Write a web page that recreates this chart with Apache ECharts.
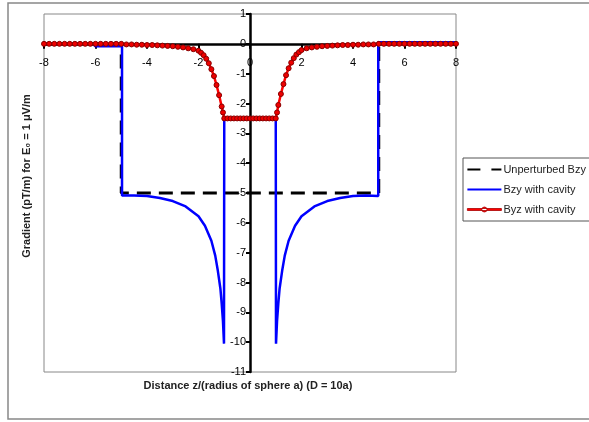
<!DOCTYPE html>
<html>
<head>
<meta charset="utf-8">
<script src="https://cdn.jsdelivr.net/npm/echarts@6/dist/echarts.min.js"></script>
<style>
  html, body { margin: 0; padding: 0; background: #fff; }
  #main { width: 589px; height: 422px; }
</style>
</head>
<body>
<div id="main"></div>
<script>
// values
var xTicks = [-8, -6, -4, -2, 0, 2, 4, 6, 8];
var yTicks = [1, 0, -1, -2, -3, -4, -5, -6, -7, -8, -9, -10, -11];

// unperturbed gradient (step at the sphere D = 10a)
var baseZ = [-8, -5, -5, 5, 5, 8];
var baseV = [0, 0, -5, -5, 0, 0];

// Bzy with cavity
var blueZ = [-8, -6.1, -6.0, -4.97, -4.97, -4.5, -4, -3.5, -3, -2.5, -2, -1.75, -1.5, -1.35, -1.25, -1.15, -1.1, -1.05, -1.01, -1.0,
             1.0, 1.01, 1.05, 1.1, 1.15, 1.25, 1.35, 1.5, 1.75, 2, 2.5, 3, 3.5, 4, 4.5, 4.98, 4.98, 6, 8];
var blueV = [0, 0, -0.08, -0.08, -5.08, -5.08, -5.1, -5.17, -5.27, -5.45, -5.78, -6.1, -6.6, -7.1, -7.6, -8.2, -8.7, -9.3, -10.05, -2.5,
             -2.5, -10.05, -9.3, -8.7, -8.2, -7.6, -7.1, -6.6, -6.1, -5.78, -5.45, -5.27, -5.17, -5.1, -5.08, -5.1, 0.05, 0.05, 0.05];

// Byz with cavity (marked points)
var redZ = [-8, -7.8, -7.6, -7.4, -7.2, -7, -6.8, -6.6, -6.4, -6.2, -6, -5.8, -5.6, -5.4, -5.2, -5,
            -4.8, -4.6, -4.4, -4.2, -4, -3.8, -3.6, -3.4, -3.2, -3, -2.8, -2.6, -2.4, -2.2,
            -2, -1.9, -1.8, -1.7, -1.6, -1.5, -1.4, -1.3, -1.2, -1.1, -1.05,
            -1, -0.875, -0.75, -0.625, -0.5, -0.375, -0.25, -0.125, 0, 0.125, 0.25, 0.375, 0.5, 0.625, 0.75, 0.875, 1,
            1.05, 1.1, 1.2, 1.3, 1.4, 1.5, 1.6, 1.7, 1.8, 1.9, 2,
            2.2, 2.4, 2.6, 2.8, 3, 3.2, 3.4, 3.6, 3.8, 4, 4.2, 4.4, 4.6, 4.8,
            5, 5.2, 5.4, 5.6, 5.8, 6, 6.2, 6.4, 6.6, 6.8, 7, 7.2, 7.4, 7.6, 7.8, 8];
var redV = [0, 0, 0, 0, 0, 0, 0, 0, 0, 0, 0, 0, 0, 0, 0, 0,
            -0.02, -0.02, -0.03, -0.03, -0.04, -0.04, -0.05, -0.06, -0.07, -0.08, -0.1, -0.12, -0.15, -0.18,
            -0.23, -0.3, -0.38, -0.5, -0.65, -0.85, -1.08, -1.38, -1.72, -2.1, -2.3,
            -2.5, -2.5, -2.5, -2.5, -2.5, -2.5, -2.5, -2.5, -2.5, -2.5, -2.5, -2.5, -2.5, -2.5, -2.5, -2.5, -2.5,
            -2.3, -2.05, -1.68, -1.35, -1.05, -0.82, -0.63, -0.48, -0.36, -0.28, -0.21,
            -0.15, -0.12, -0.1, -0.08, -0.07, -0.06, -0.05, -0.04, -0.04, -0.03, -0.03, -0.02, -0.02, -0.02,
            0, 0, 0, 0, 0, 0, 0, 0, 0, 0, 0, 0, 0, 0, 0, 0];

function pairs(xs, ys) {
  return xs.map(function (x, i) { return [x, ys[i]]; });
}

var font = 'Arial, "Liberation Sans", sans-serif';
var W = 589, H = 422;
var grid = { left: 44, right: 133, top: 14, bottom: 50 };
var xMin = xTicks[0], xMax = xTicks[xTicks.length - 1];
var yMin = yTicks[yTicks.length - 1], yMax = yTicks[0];
// the axes cross at zero, labels and ticks go with them
var plotW = W - grid.left - grid.right, plotH = H - grid.top - grid.bottom;
var yAxisOffset = -(0 - xMin) / (xMax - xMin) * plotW;
var xAxisOffset = -(0 - yMin) / (yMax - yMin) * plotH;

// legend icons, all in a 34x10 box so they scale the same
var box = 'M0,0L0.01,0L0,0.01Z M34,10L33.99,10L34,9.99Z ';
var iconDash = 'path://' + box + 'M0,4L13,4L13,6L0,6Z M24,4L34,4L34,6L24,6Z';
var iconLine = 'path://' + box + 'M0,4L34,4L34,6L0,6Z';
var iconMark = 'path://' + box + 'M0,4L34,4L34,6L0,6Z M14.5,5A2.5,2.5 0 1,0 19.5,5A2.5,2.5 0 1,0 14.5,5Z';

var chart = echarts.init(document.getElementById('main'));

chart.setOption({
  animation: false,
  backgroundColor: '#fff',
  grid: {
    left: grid.left, right: grid.right, top: grid.top, bottom: grid.bottom,
    show: true, borderColor: '#888', borderWidth: 1, backgroundColor: 'transparent'
  },
  legend: {
    orient: 'vertical',
    left: 463, top: 158,
    width: 124,
    padding: [6, 6, 6, 4],
    itemGap: 9,
    itemWidth: 34, itemHeight: 10,
    backgroundColor: '#fff',
    borderColor: '#555', borderWidth: 1,
    textStyle: { fontFamily: font, fontSize: 11, color: '#222', padding: [0, 0, 0, -3] },
    data: [
      { name: 'Unperturbed Bzy', icon: iconDash, itemStyle: { color: '#000', borderWidth: 0 } },
      { name: 'Bzy with cavity', icon: iconLine, itemStyle: { color: '#0000ff', borderWidth: 0 } },
      { name: 'Byz with cavity', icon: iconMark, itemStyle: { color: '#ff0000', borderColor: '#aa0000', borderWidth: 0.8 } }
    ]
  },
  xAxis: {
    type: 'value',
    min: xMin, max: xMax, interval: 2,
    offset: xAxisOffset,
    axisLine: { onZero: false, lineStyle: { color: '#000', width: 2.5 } },
    axisTick: { show: true, length: 5, lineStyle: { color: '#000', width: 2 } },
    axisLabel: { fontFamily: font, fontSize: 11, color: '#000', margin: 14, showMinLabel: true, showMaxLabel: true },
    splitLine: { show: false }
  },
  yAxis: {
    type: 'value',
    min: yMin, max: yMax, interval: 1,
    offset: yAxisOffset,
    axisLine: { onZero: false, lineStyle: { color: '#000', width: 2.5 } },
    axisTick: { show: true, length: 4, lineStyle: { color: '#000', width: 2 } },
    axisLabel: { fontFamily: font, fontSize: 11, color: '#000', margin: 4, showMinLabel: true, showMaxLabel: true },
    splitLine: { show: false }
  },
  graphic: [
    {
      type: 'rect', silent: true, z: -1,
      shape: { x: 8, y: 3, width: 600, height: 416 },
      style: { fill: 'none', stroke: '#888', lineWidth: 1.5 }
    },
    {
      type: 'text', x: 27, y: 176, rotation: Math.PI / 2,
      style: {
        text: 'Gradient (pT/m) for E\u2080 = 1 \u03bcV/m',
        font: 'bold 11px ' + font, fill: '#222',
        align: 'center', verticalAlign: 'middle'
      }
    },
    {
      type: 'text', x: 248, y: 386,
      style: {
        text: 'Distance z/(radius of sphere a) (D = 10a)',
        font: 'bold 11px ' + font, fill: '#222',
        align: 'center', verticalAlign: 'middle'
      }
    }
  ],
  series: [
    {
      name: 'Unperturbed Bzy',
      type: 'line',
      data: pairs(baseZ, baseV),
      showSymbol: false, symbol: 'none',
      lineStyle: { color: '#000', width: 3, type: [14, 8] },
      itemStyle: { color: '#000' },
      z: 2
    },
    {
      name: 'Bzy with cavity',
      type: 'line',
      data: pairs(blueZ, blueV),
      showSymbol: false, symbol: 'none',
      lineStyle: { color: '#0000ff', width: 2.5 },
      itemStyle: { color: '#0000ff' },
      z: 3
    },
    {
      name: 'Byz with cavity',
      type: 'line',
      data: pairs(redZ, redV),
      symbol: 'circle', symbolSize: 5,
      lineStyle: { color: '#ff0000', width: 2.5 },
      itemStyle: { color: '#ee0000', borderColor: '#880000', borderWidth: 1 },
      z: 4
    }
  ]
});
</script>
</body>
</html>
